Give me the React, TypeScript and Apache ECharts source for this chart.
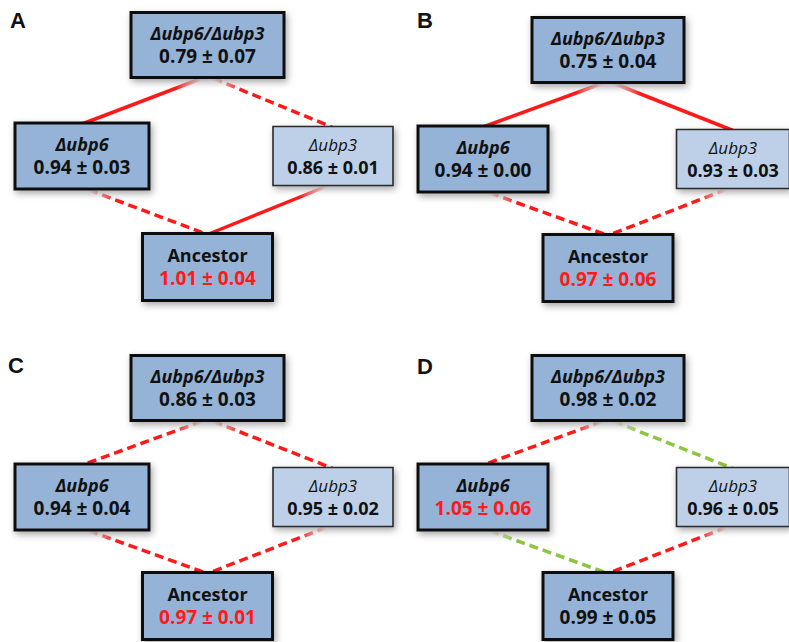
import React, { useEffect, useRef } from 'react';
import * as echarts from 'echarts';

const panelLetters = ['A', 'B', 'C', 'D'];
const nodeNames = ['Δubp6/Δubp3', 'Δubp6', 'Δubp3', 'Ancestor'];
const nodeCol = [1, 0, 2, 1];
const nodeRow = [2, 1, 1, 0];

const meanA = [0.79, 0.94, 0.86, 1.01];
const errA = [0.07, 0.03, 0.01, 0.04];
const meanB = [0.75, 0.94, 0.93, 0.97];
const errB = [0.04, 0.0, 0.03, 0.06];
const meanC = [0.86, 0.94, 0.95, 0.97];
const errC = [0.03, 0.04, 0.02, 0.01];
const meanD = [0.98, 1.05, 0.96, 0.99];
const errD = [0.02, 0.06, 0.05, 0.05];

const redValueA = [false, false, false, true];
const redValueB = [false, false, false, true];
const redValueC = [false, false, false, true];
const redValueD = [false, true, false, false];

const edgeFrom = [0, 0, 1, 2];
const edgeTo = [1, 2, 3, 3];
const edgeDashA = [false, true, true, false];
const edgeDashB = [false, false, true, true];
const edgeDashC = [true, true, true, true];
const edgeDashD = [true, true, true, true];
const edgeColorA = ['red', 'red', 'red', 'red'];
const edgeColorB = ['red', 'red', 'red', 'red'];
const edgeColorC = ['red', 'red', 'red', 'red'];
const edgeColorD = ['red', 'green', 'green', 'red'];

const panels = [
  { letter: panelLetters[0], mean: meanA, err: errA, red: redValueA, dash: edgeDashA, color: edgeColorA },
  { letter: panelLetters[1], mean: meanB, err: errB, red: redValueB, dash: edgeDashB, color: edgeColorB },
  { letter: panelLetters[2], mean: meanC, err: errC, red: redValueC, dash: edgeDashC, color: edgeColorC },
  { letter: panelLetters[3], mean: meanD, err: errD, red: redValueD, dash: edgeDashD, color: edgeColorD },
];

// layout / style
const gridRects = [
  { left: 82, top: 45, width: 251, height: 222 },
  { left: 483, top: 50, width: 250, height: 218 },
  { left: 82, top: 388, width: 251, height: 218 },
  { left: 483, top: 388, width: 250, height: 218 },
];
const letterPos = [
  { left: 10, top: 9 },
  { left: 417, top: 9 },
  { left: 8, top: 354 },
  { left: 417, top: 355 },
];
const boxWLeftCol = [153, 134, 120, 130];
const boxWRightCol = [152, 130, 113, 130];
const boxH = [65, 66, 59, 67];
const RED = '#ff1a1a';
const FONT = 'Open Sans';

function rgba(c: string, a: number) {
  return c === 'green' ? `rgba(140,198,63,${a})` : `rgba(255,26,26,${a})`;
}

function buildOption() {
  const grid: any[] = [];
  const xAxis: any[] = [];
  const yAxis: any[] = [];
  const series: any[] = [];
  const title: any[] = [];
  panels.forEach((p, pi) => {
    grid.push({ ...gridRects[pi], containLabel: false });
    xAxis.push({ type: 'value', gridIndex: pi, min: 0, max: 2, show: false });
    yAxis.push({ type: 'value', gridIndex: pi, min: 0, max: 2, show: false });
    title.push({
      text: p.letter,
      left: letterPos[pi].left,
      top: letterPos[pi].top,
      padding: 0,
      textStyle: { fontFamily: 'Liberation Sans', fontWeight: 'bold', fontSize: 22, color: '#111' },
    });
    const boxW = pi % 2 === 0 ? boxWLeftCol : boxWRightCol;
    // edges
    const edgeData = edgeFrom.map((f, ei) => [nodeCol[f], nodeRow[f], nodeCol[edgeTo[ei]], nodeRow[edgeTo[ei]]]);
    series.push({
      type: 'custom',
      name: 'edges' + p.letter,
      xAxisIndex: pi,
      yAxisIndex: pi,
      z: 1,
      silent: true,
      data: edgeData,
      renderItem: (params: any, api: any) => {
        const ei = params.dataIndex;
        const f = edgeFrom[ei];
        const t = edgeTo[ei];
        const p1 = api.coord([api.value(0), api.value(1)]);
        const p2 = api.coord([api.value(2), api.value(3)]);
        const dir = Math.sign(p2[0] - p1[0]);
        const off = f === 0 ? 6 : 7;
        const x1 = p1[0] + dir * off;
        const y1 = p1[1] + boxH[f] / 2 + 1;
        const x2 = p2[0];
        const y2 = p2[1] - boxH[t] / 2 + 1;
        const c = p.color[ei];
        const grad = new echarts.graphic.LinearGradient(
          x1, y1, x2, y2,
          [
            { offset: 0, color: rgba(c, 0.0) },
            { offset: 0.22, color: rgba(c, 1) },
            { offset: 1, color: rgba(c, 1) },
          ],
          true
        );
        return {
          type: 'line',
          shape: { x1, y1, x2, y2 },
          style: {
            stroke: grad,
            lineWidth: 3.5,
            lineDash: p.dash[ei] ? [9, 5] : null,
            fill: null,
          },
        };
      },
    });
    // nodes
    const nodeData = nodeCol.map((x, i) => [x, nodeRow[i], p.mean[i], p.err[i]]);
    series.push({
      type: 'custom',
      name: 'nodes' + p.letter,
      xAxisIndex: pi,
      yAxisIndex: pi,
      z: 2,
      silent: true,
      data: nodeData,
      renderItem: (params: any, api: any) => {
        const i = params.dataIndex;
        const c = api.coord([api.value(0), api.value(1)]);
        const w = boxW[i];
        const h = boxH[i];
        const light = i === 2;
        const valText = `${Number(api.value(2)).toFixed(2)} ± ${Number(api.value(3)).toFixed(2)}`;
        return {
          type: 'group',
          children: [
            {
              type: 'rect',
              shape: { x: c[0] - w / 2, y: c[1] - h / 2, width: w, height: h },
              style: {
                fill: light ? '#bdd0e8' : '#95b3d7',
                stroke: light ? '#2a2a2a' : '#111',
                lineWidth: light ? 1.6 : 3,
                shadowBlur: 7,
                shadowOffsetX: 2,
                shadowOffsetY: 3,
                shadowColor: 'rgba(0,0,0,0.35)',
              },
            },
            {
              type: 'text',
              style: {
                text: nodeNames[i],
                x: c[0],
                y: c[1] - 12,
                align: 'center',
                verticalAlign: 'middle',
                fontFamily: FONT,
                fontSize: light ? 17 : 18,
                fontWeight: light ? 'normal' : 'bold',
                fontStyle: i === 3 ? 'normal' : 'italic',
                fill: '#111',
              },
            },
            {
              type: 'text',
              style: {
                text: valText,
                x: c[0],
                y: c[1] + 11,
                align: 'center',
                verticalAlign: 'middle',
                fontFamily: FONT,
                fontSize: light ? 18 : 19,
                fontWeight: 'bold',
                fill: p.red[i] ? RED : '#111',
              },
            },
          ],
        };
      },
    });
  });
  return {
    animation: false,
    backgroundColor: '#ffffff',
    title,
    grid,
    xAxis,
    yAxis,
    series,
  };
}

export default function App() {
  const ref = useRef<HTMLDivElement>(null);
  useEffect(() => {
    if (!ref.current) return;
    const chart = echarts.init(ref.current, undefined, { renderer: 'svg' });
    chart.setOption(buildOption() as any);
    return () => chart.dispose();
  }, []);
  return (
    <div
      ref={ref}
      style={{ position: 'absolute', left: 0, top: 0, width: 789, height: 642, background: '#fff' }}
    />
  );
}
